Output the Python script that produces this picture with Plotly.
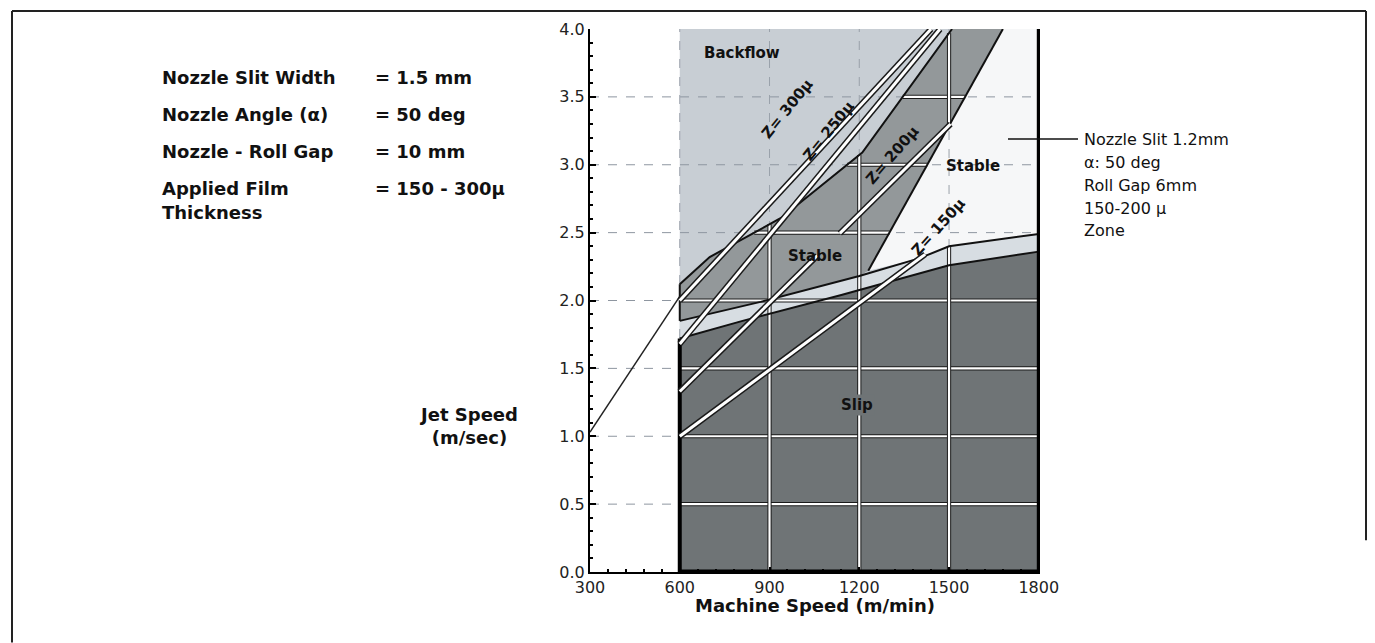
import numpy as np
import plotly.graph_objects as go

# ---------------- data ----------------
x_ticks = [300, 600, 900, 1200, 1500, 1800]
y_ticks = [0.0, 0.5, 1.0, 1.5, 2.0, 2.5, 3.0, 3.5, 4.0]

# Backflow zone (whole area right of 600 m/min)
backflow_x = [600, 1800, 1800, 600]
backflow_y = [0.0, 0.0, 4.0, 4.0]

# Upper edge of the Slip zone (= lower edge of the transition band)
slip_top_x = [600, 810, 1140, 1500, 1800]
slip_top_y = [1.72, 1.85, 2.04, 2.26, 2.36]

# Upper edge of the transition band
band_top_x = [600, 870, 1200, 1400, 1500, 1800]
band_top_y = [1.85, 1.99, 2.18, 2.31, 2.40, 2.49]

# Upper (backflow) edge of the 1.5 mm "Stable" zone
stable15_top_x = [600, 700, 940, 1210, 1510]
stable15_top_y = [2.12, 2.32, 2.61, 3.09, 4.00]

# Left edge of the 1.2 mm "Stable" zone (white)
stable12_left_x = [1230, 1680]
stable12_left_y = [2.22, 4.00]

# Film thickness lines Z
z_names = ["Z= 300µ", "Z= 250µ", "Z= 200µ", "Z= 150µ"]
z_start_x = [600, 600, 600, 600]
z_start_y = [2.00, 1.68, 1.33, 1.00]
z_end_x = [1440, 1470, 1505, 1420]
z_end_y = [4.00, 4.00, 3.30, 2.34]
z_gap_200 = [1060, 1135]          # Z=200 line is broken behind the "Stable" label
z_label_x = [959, 1097, 1311, 1465]
z_label_y = [3.41, 3.25, 3.07, 2.54]
z_label_angle = [-51, -51, -49, -48]

# Boundary line on the left of the Backflow zone
left_line_x = [300, 600]
left_line_y = [1.03, 2.03]

zone_labels = ["Backflow", "Stable", "Stable", "Slip"]
zone_label_x = [809, 1053, 1579, 1194]
zone_label_y = [3.82, 2.33, 2.99, 1.23]

param_names = ["Nozzle Slit Width", "Nozzle Angle (α)", "Nozzle - Roll Gap", "Applied Film", "Thickness"]
param_values = ["= 1.5 mm", "= 50 deg", "= 10 mm", "= 150 - 300µ", ""]
note_lines = ["Nozzle Slit 1.2mm", "α: 50 deg", "Roll Gap 6mm", "150-200 µ", "Zone"]
note_anchor = [1700, 3.19]

# ---------------- styling ----------------
C_BACK = "#c8ced4"
C_BAND = "#d7dde2"
C_MED = "#93989a"
C_SLIP = "#6f7476"
C_WHITE = "#f6f7f8"
FONT = "DejaVu Sans"

W, H = 1375, 643
OFF = 8                      # page body margin in the browser
ML, MT = 582, 18
PW, PH = 450, 546
MR = W - ML - PW
MB = H - MT - PH


def px_x(p):
    return (p - OFF - ML) / PW


def px_y(p):
    return (MT + PH - (p - OFF)) / PH


fig = go.Figure()


def poly(xs, ys, color):
    fig.add_trace(go.Scatter(x=list(xs), y=list(ys), fill="toself", fillcolor=color,
                             mode="lines", line=dict(width=0), hoverinfo="skip",
                             showlegend=False))


def seg(xs, ys, color, width, dash=None):
    fig.add_trace(go.Scatter(x=list(xs), y=list(ys), mode="lines",
                             line=dict(color=color, width=width, dash=dash),
                             hoverinfo="skip", showlegend=False))


# --- filled zones ---
poly(backflow_x, backflow_y, C_BACK)

bt_x = np.array(band_top_x, float)
bt_y = np.array(band_top_y, float)
left_part = bt_x < stable12_left_x[0]
right_part = bt_x > stable12_left_x[0]

med_x = list(stable15_top_x) + [stable12_left_x[1], stable12_left_x[0]] + list(bt_x[left_part][::-1])
med_y = list(stable15_top_y) + [stable12_left_y[1], stable12_left_y[0]] + list(bt_y[left_part][::-1])
poly(med_x, med_y, C_MED)

wh_x = [stable12_left_x[0], stable12_left_x[1], backflow_x[2]] + list(bt_x[right_part][::-1])
wh_y = [stable12_left_y[0], stable12_left_y[1], backflow_y[2]] + list(bt_y[right_part][::-1])
poly(wh_x, wh_y, C_WHITE)

poly(list(band_top_x) + list(slip_top_x[::-1]), list(band_top_y) + list(slip_top_y[::-1]), C_BAND)
poly([backflow_x[0], backflow_x[1]] + list(slip_top_x[::-1]),
     [0.0, 0.0] + list(slip_top_y[::-1]), C_SLIP)

# --- dashed grid (visible on the light areas) ---
for yv in y_ticks[1:-1]:
    seg([x_ticks[0], x_ticks[-1]], [yv, yv], "#8e96a0", 1, "dash")
for xv in x_ticks[1:-1]:
    seg([xv, xv], [0, 4], "#9aa1aa", 1, "dash")


def white_seg(xs, ys, wb=4.2, ww=2.2):
    seg(xs, ys, "#1a1a1a", wb)
    seg(xs, ys, "#ffffff", ww)


def x_at(yv, bx, by):
    return float(np.interp(yv, by, bx))


def y_at(xv, bx, by):
    return float(np.interp(xv, bx, by))


# --- white grid lines inside the grey zones ---
for yv in [0.5, 1.0, 1.5]:
    white_seg([x_ticks[1], x_ticks[-1]], [yv, yv])
white_seg([x_ticks[1], x_ticks[-1]], [2.0, 2.0])
for yv in [2.5, 3.0, 3.5]:
    xa = x_at(yv, stable15_top_x, stable15_top_y)
    xb = x_at(yv, stable12_left_x, stable12_left_y)
    white_seg([xa, xb], [yv, yv])
for xv in [900, 1200]:
    white_seg([xv, xv], [0, y_at(xv, stable15_top_x, stable15_top_y)])
white_seg([1500, 1500], [0, y_at(1500, band_top_x, band_top_y)])
white_seg([1500, 1500], [y_at(1500, stable12_left_x, stable12_left_y),
                         y_at(1500, stable15_top_x, stable15_top_y)])

# --- zone outlines ---
seg(slip_top_x, slip_top_y, "#111111", 2)
seg(band_top_x, band_top_y, "#111111", 2)
seg(stable15_top_x, stable15_top_y, "#111111", 2)
seg(stable12_left_x, stable12_left_y, "#111111", 2)
seg([600, 600], [band_top_y[0], stable15_top_y[0]], "#111111", 2)
seg([600, 600], [0, slip_top_y[0]], "#000000", 4)
seg([1800, 1800], [0, 4], "#000000", 4)
seg([600, 1800], [0, 0], "#000000", 5)
seg(left_line_x, left_line_y, "#222222", 1.5)

# --- Z lines ---
for i in range(4):
    xs = np.array([z_start_x[i], z_end_x[i]], float)
    ys = np.array([z_start_y[i], z_end_y[i]], float)
    if i == 2:
        g0, g1 = z_gap_200
        white_seg([xs[0], g0], [ys[0], y_at(g0, xs, ys)], 6, 3)
        white_seg([g1, xs[1]], [y_at(g1, xs, ys), ys[1]], 6, 3)
    else:
        white_seg(xs, ys, 6, 3)

# ---------------- annotations ----------------
ann = []
for t, x, y, a in zip(z_names, z_label_x, z_label_y, z_label_angle):
    ann.append(dict(x=x, y=y, xref="x", yref="y", text="<b>%s</b>" % t, textangle=a, showarrow=False,
                    font=dict(family=FONT, size=15, color="#111"), xanchor="center", yanchor="middle"))
for t, x, y in zip(zone_labels, zone_label_x, zone_label_y):
    d = dict(x=x, y=y, xref="x", yref="y", text="<b>%s</b>" % t, showarrow=False,
             font=dict(family=FONT, size=15, color="#111"), xanchor="center", yanchor="middle")
    if t == "Slip":
        d.update(bgcolor=C_SLIP, borderpad=1)
    ann.append(d)

rows_y = [75, 112, 149, 186, 211]
for name, val, ry in zip(param_names, param_values, rows_y):
    ann.append(dict(x=px_x(160), y=px_y(ry), xref="paper", yref="paper", text="<b>%s</b>" % name,
                    showarrow=False, xanchor="left", yanchor="middle",
                    font=dict(family=FONT, size=18, color="#111")))
    if val:
        ann.append(dict(x=px_x(373), y=px_y(ry), xref="paper", yref="paper", text="<b>%s</b>" % val,
                        showarrow=False, xanchor="left", yanchor="middle",
                        font=dict(family=FONT, size=18, color="#111")))

for i, t in enumerate(note_lines):
    ann.append(dict(x=px_x(1082), y=px_y(137 + 23 * i), xref="paper", yref="paper", text=t,
                    showarrow=False, xanchor="left", yanchor="middle",
                    font=dict(family=FONT, size=16, color="#111")))

ann.append(dict(x=px_x(468), y=px_y(425), xref="paper", yref="paper",
                text="<b>Jet Speed</b><br><b>(m/sec)</b>", showarrow=False, align="center",
                xanchor="center", yanchor="middle", font=dict(family=FONT, size=18, color="#111")))
ann.append(dict(x=0.5, y=px_y(606), xref="paper", yref="paper",
                text="<b>Machine Speed (m/min)</b>", showarrow=False,
                xanchor="center", yanchor="middle", font=dict(family=FONT, size=18, color="#111")))

shapes = [
    # leader line to the side note
    dict(type="line", xref="paper", yref="y", x0=px_x(1008), x1=px_x(1078),
         y0=note_anchor[1], y1=note_anchor[1], line=dict(color="#111", width=1.5)),
    # page frame
    dict(type="line", xref="paper", yref="paper", x0=px_x(12), x1=px_x(1366),
         y0=px_y(8), y1=px_y(8), line=dict(color="#222", width=2)),
    dict(type="line", xref="paper", yref="paper", x0=px_x(12), x1=px_x(12),
         y0=px_y(8), y1=px_y(643), line=dict(color="#222", width=2)),
    dict(type="line", xref="paper", yref="paper", x0=px_x(1366), x1=px_x(1366),
         y0=px_y(8), y1=px_y(540), line=dict(color="#222", width=2)),
]

fig.update_layout(
    width=W, height=H, margin=dict(l=ML, r=MR, t=MT, b=MB),
    paper_bgcolor="white", plot_bgcolor="white", showlegend=False,
    annotations=ann, shapes=shapes,
    xaxis=dict(range=[300, 1804], tickmode="array", tickvals=x_ticks,
               ticktext=[str(v) for v in x_ticks], ticks="inside", ticklen=5, tickwidth=1.5,
               tickcolor="black", showline=True, linecolor="black", linewidth=2,
               showgrid=False, zeroline=False,
               minor=dict(tick0=300, dtick=60, ticks="inside", ticklen=3, tickcolor="black", showgrid=False),
               tickfont=dict(family=FONT, size=16, color="#222")),
    yaxis=dict(range=[0, 4], tickmode="array", tickvals=y_ticks,
               ticktext=["%.1f" % v for v in y_ticks], ticks="inside", ticklen=6, tickwidth=1.5,
               tickcolor="black", showline=True, linecolor="black", linewidth=2,
               showgrid=False, zeroline=False,
               minor=dict(tick0=0, dtick=0.1, ticks="inside", ticklen=3, tickcolor="black", showgrid=False),
               tickfont=dict(family=FONT, size=16, color="#222")),
)

fig.write_html("out.html")
